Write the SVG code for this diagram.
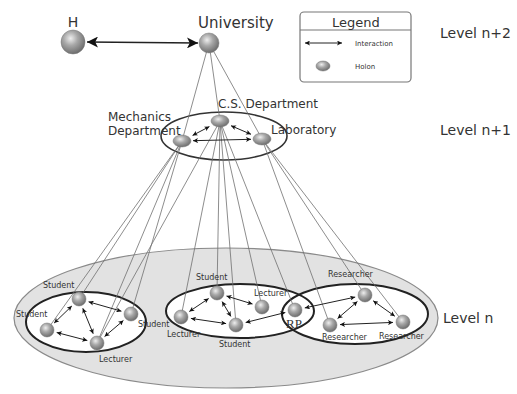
<svg xmlns="http://www.w3.org/2000/svg" width="517" height="394" viewBox="0 0 517 394">
<defs>
<radialGradient id="sph" cx="40%" cy="35%" r="65%">
<stop offset="0" stop-color="#eeeeee"/>
<stop offset="0.45" stop-color="#a8a8a8"/>
<stop offset="1" stop-color="#6e6e6e"/>
</radialGradient>
<marker id="ah" viewBox="0 0 10 10" refX="10" refY="5" markerWidth="6" markerHeight="5" markerUnits="userSpaceOnUse" orient="auto-start-reverse">
<path d="M0,0 L10,5 L0,10 L2.5,5 z" fill="#111"/>
</marker>
<marker id="ahBig" viewBox="0 0 10 10" refX="10" refY="5" markerWidth="13" markerHeight="11" markerUnits="userSpaceOnUse" orient="auto-start-reverse">
<path d="M0,0 L10,5 L0,10 L2.5,5 z" fill="#111"/>
</marker>
</defs>
<style>
text{font-family:"DejaVu Sans","Liberation Sans",sans-serif;fill:#333}
.big{font-size:15px}
.lvl{font-size:14px}
.mid{font-size:12px}
.sm{font-size:8px}
.lg{font-size:7px}
.ia{stroke:#222;stroke-width:1;fill:none;marker-start:url(#ah);marker-end:url(#ah)}
.ln{stroke:#707070;stroke-width:0.8;fill:none}
.subf{fill:#fff;stroke:none}
.subs{fill:none;stroke:#222;stroke-width:2}
.sp{fill:url(#sph);stroke:#777;stroke-width:0.5}
</style>
<rect width="517" height="394" fill="#fff"/>

<g id="level-n-area">
<ellipse cx="226" cy="318" rx="212" ry="70" fill="#e2e2e2" stroke="#8a8a8a" stroke-width="1.2"/>
<ellipse class="subf" cx="86" cy="322" rx="60" ry="30"/>
<ellipse class="subf" cx="240" cy="311" rx="74" ry="27"/>
<ellipse class="subf" cx="355" cy="314" rx="73" ry="30"/>
<ellipse class="subs" cx="86" cy="322" rx="60" ry="30"/>
<ellipse class="subs" cx="240" cy="311" rx="74" ry="27"/>
<ellipse class="subs" cx="355" cy="314" rx="73" ry="30"/>
</g>
<g id="level-n1-area">
<ellipse cx="224" cy="136" rx="63" ry="24" fill="none" stroke="#333" stroke-width="1.6"/>
</g>

<g id="connectors">
<line class="ln" x1="209" y1="43" x2="182" y2="141"/>
<line class="ln" x1="209" y1="43" x2="220" y2="121"/>
<line class="ln" x1="209" y1="43" x2="262" y2="139"/>
<line class="ln" x1="182" y1="141" x2="79" y2="299"/>
<line class="ln" x1="182" y1="141" x2="47" y2="330"/>
<line class="ln" x1="182" y1="141" x2="131" y2="314"/>
<line class="ln" x1="182" y1="141" x2="97" y2="343"/>
<line class="ln" x1="220" y1="121" x2="97" y2="343"/>
<line class="ln" x1="220" y1="121" x2="181" y2="317"/>
<line class="ln" x1="220" y1="121" x2="217" y2="293"/>
<line class="ln" x1="220" y1="121" x2="236" y2="325"/>
<line class="ln" x1="220" y1="121" x2="262" y2="307"/>
<line class="ln" x1="220" y1="121" x2="295" y2="310"/>
<line class="ln" x1="262" y1="139" x2="330" y2="325"/>
<line class="ln" x1="262" y1="139" x2="365" y2="295"/>
<line class="ln" x1="262" y1="139" x2="403" y2="322"/>

<line x1="87" y1="42" x2="198" y2="43" stroke="#222" stroke-width="1.6" marker-start="url(#ahBig)" marker-end="url(#ahBig)"/>

<line class="ia" x1="209.4" y1="126.6" x2="192.6" y2="135.4"/>
<line class="ia" x1="231" y1="125.7" x2="251" y2="134.3"/>
<line class="ia" x1="193" y1="140.7" x2="251" y2="139.3"/>

<line class="ia" x1="71.8" y1="306" x2="54.2" y2="323"/>
<line class="ia" x1="88.6" y1="301.8" x2="121.4" y2="311.2"/>
<line class="ia" x1="82.8" y1="308.3" x2="93.2" y2="333.7"/>
<line class="ia" x1="56.7" y1="332.5" x2="87.3" y2="340.5"/>
<line class="ia" x1="123.4" y1="320.5" x2="104.6" y2="336.5"/>

<line class="ia" x1="208.7" y1="298.5" x2="189.3" y2="311.5"/>
<line class="ia" x1="226.5" y1="296" x2="252.5" y2="304"/>
<line class="ia" x1="222.1" y1="301.6" x2="230.9" y2="316.4"/>
<line class="ia" x1="190.9" y1="318.4" x2="226.1" y2="323.6"/>
<line class="ia" x1="245.7" y1="322.5" x2="285.3" y2="312.5"/>

<line class="ia" x1="304.8" y1="307.9" x2="355.2" y2="297.1"/>
<line class="ia" x1="357.4" y1="301.5" x2="337.6" y2="318.5"/>
<line class="ia" x1="373.2" y1="300.8" x2="394.8" y2="316.2"/>
<line class="ia" x1="340" y1="324.6" x2="393" y2="322.4"/>
</g>

<g id="H">
<circle class="sp" cx="73" cy="42" r="12"/>
<text x="73" y="27" class="lvl" text-anchor="middle">H</text>
</g>
<g id="University">
<circle class="sp" cx="209" cy="43" r="10"/>
<text x="198" y="28" class="big">University</text>
</g>

<g id="Legend">
<rect x="300" y="12" width="111" height="70" rx="4" fill="#fff" stroke="#777" stroke-width="1.2"/>
<line x1="300" y1="30" x2="411" y2="30" stroke="#777" stroke-width="1.2"/>
<text x="356" y="27" text-anchor="middle" style="font-size:13px">Legend</text>
<line class="ia" x1="305" y1="43" x2="342" y2="43"/>
<text x="355" y="46" class="lg">Interaction</text>
<ellipse class="sp" cx="323" cy="66" rx="7" ry="5"/>
<text x="355" y="69" class="lg">Holon</text>
</g>

<g id="levels">
<text x="440" y="38" class="lvl">Level n+2</text>
<text x="440" y="135" class="lvl">Level n+1</text>
<text x="443" y="323" class="lvl">Level n</text>
</g>

<g id="CS-Department">
<ellipse class="sp" cx="220" cy="121" rx="9" ry="6"/>
<text x="218" y="108" class="mid">C.S. Department</text>
</g>
<g id="Mechanics-Department">
<ellipse class="sp" cx="182" cy="141" rx="9" ry="6"/>
<text x="108" y="121" class="mid">Mechanics</text>
<text x="108" y="135" class="mid">Department</text>
</g>
<g id="Laboratory">
<ellipse class="sp" cx="262" cy="139" rx="9" ry="6"/>
<text x="271" y="134" class="mid">Laboratory</text>
</g>

<g id="L-Student-top">
<circle class="sp" cx="79" cy="299" r="7"/>
<text x="43" y="288" class="sm">Student</text>
</g>
<g id="L-Student-left">
<circle class="sp" cx="47" cy="330" r="7"/>
<text x="16" y="317" class="sm">Student</text>
</g>
<g id="L-Student-right">
<circle class="sp" cx="131" cy="314" r="7"/>
<text x="138" y="327" class="sm">Student</text>
</g>
<g id="L-Lecturer">
<circle class="sp" cx="97" cy="343" r="7"/>
<text x="99" y="362" class="sm">Lecturer</text>
</g>

<g id="M-Student-top">
<circle class="sp" cx="217" cy="293" r="7"/>
<text x="196" y="280" class="sm">Student</text>
</g>
<g id="M-Lecturer-left">
<circle class="sp" cx="181" cy="317" r="7"/>
<text x="167" y="337" class="sm">Lecturer</text>
</g>
<g id="M-Student-bottom">
<circle class="sp" cx="236" cy="325" r="7"/>
<text x="219" y="347" class="sm">Student</text>
</g>
<g id="M-Lecturer-right">
<circle class="sp" cx="262" cy="307" r="7"/>
<text x="254" y="296" class="sm">Lecturer</text>
</g>
<g id="RP">
<circle class="sp" cx="295" cy="310" r="7"/>
<text x="286" y="328" style="font-family:'Liberation Serif',serif;font-size:13px">RP</text>
</g>

<g id="R-Researcher-top">
<circle class="sp" cx="365" cy="295" r="7"/>
<text x="328" y="277" class="sm">Researcher</text>
</g>
<g id="R-Researcher-left">
<circle class="sp" cx="330" cy="325" r="7"/>
<text x="322" y="340" class="sm">Researcher</text>
</g>
<g id="R-Researcher-right">
<circle class="sp" cx="403" cy="322" r="7"/>
<text x="379" y="339" class="sm">Researcher</text>
</g>
</svg>
